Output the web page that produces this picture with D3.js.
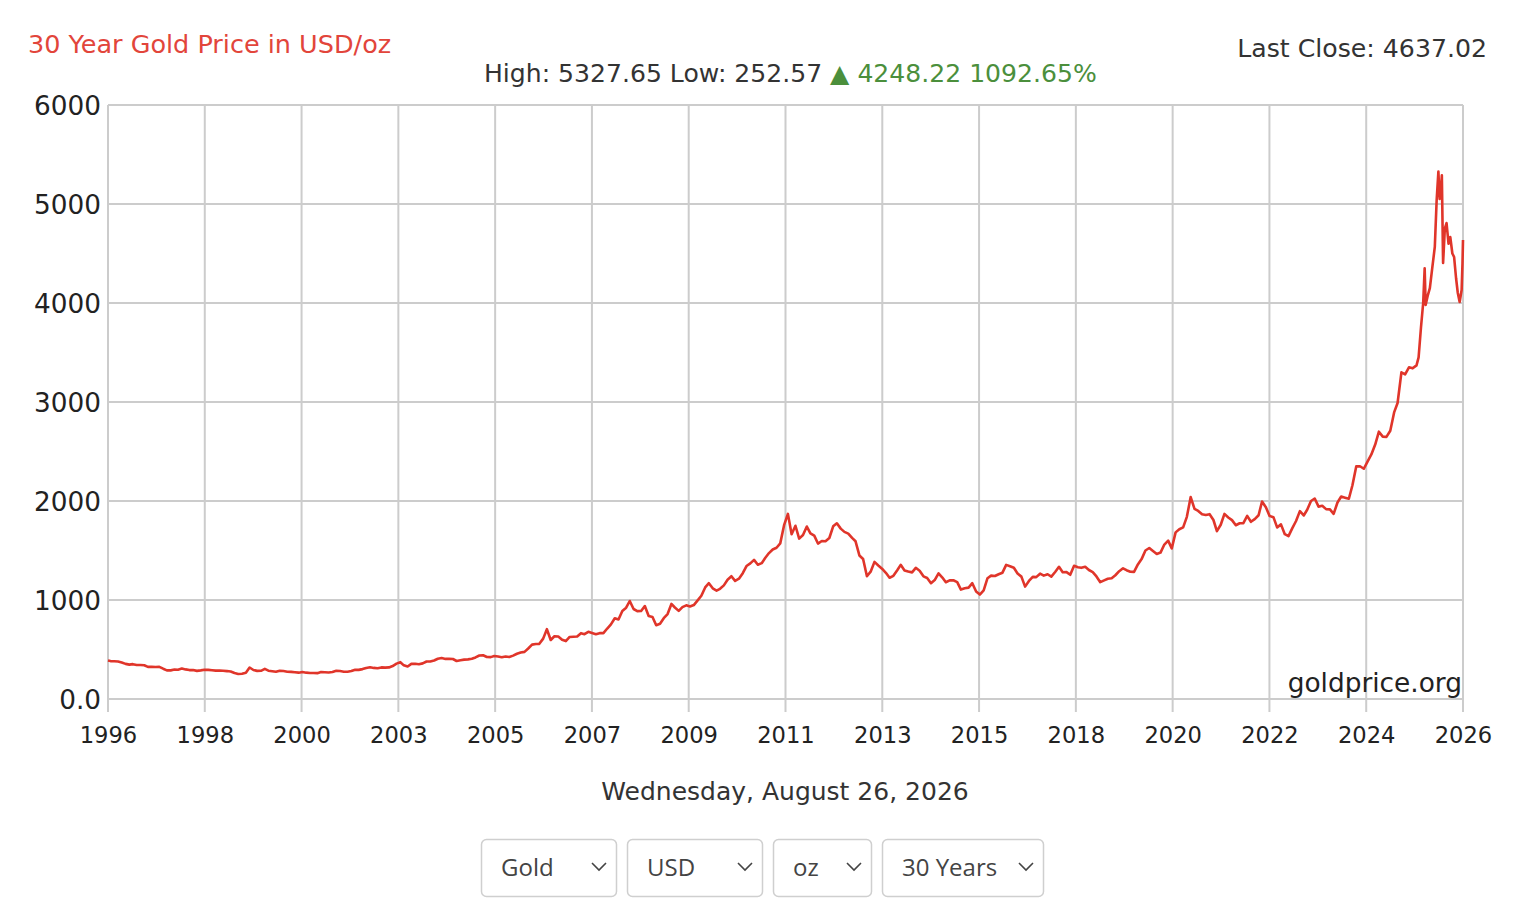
<!DOCTYPE html>
<html>
<head>
<meta charset="utf-8">
<script src="https://cdn.jsdelivr.net/npm/d3@7"></script>
<style>
  html, body { margin: 0; padding: 0; background: #fff; }
  svg { display: block; }
</style>
</head>
<body>
<svg id="chart" width="1532" height="924"></svg>
<script>
// ---------------- DATA ----------------
const titleText = "30 Year Gold Price in USD/oz";
const statsText = "High: 5327.65 Low: 252.57 ";
const changeText = "\u25B2 4248.22 1092.65%";
const lastCloseText = "Last Close: 4637.02";
const dateText = "Wednesday, August 26, 2026";
const sourceText = "goldprice.org";

const xTickLabels = ["1996","1998","2000","2003","2005","2007","2009","2011","2013","2015","2018","2020","2022","2024","2026"];
const yTickValues = [0, 1000, 2000, 3000, 4000, 5000, 6000];
const yTickLabels = ["0.0","1000","2000","3000","4000","5000","6000"];

const selectLabels = ["Gold", "USD", "oz", "30 Years"];

// monthly values (mid-month) 1996-09 .. 2025-08
const monthlyStart = "1996-09";
const monthlyPrices = [
  383, 381, 378, 369,
  355, 347, 352, 344, 344, 341, 324, 324, 323, 325, 306, 289,            // 1997
  289, 297, 296, 308, 299, 292, 293, 284, 289, 296, 294, 291,            // 1998
  287, 288, 286, 282, 277, 262, 253, 255, 265, 318, 293, 284,            // 1999
  285, 305, 286, 280, 275, 286, 282, 275, 274, 270, 266, 272,            // 2000
  266, 262, 263, 261, 272, 270, 268, 273, 286, 283, 276, 276,            // 2001
  282, 296, 294, 302, 314, 321, 314, 310, 319, 317, 319, 333,            // 2002
  357, 372, 340, 328, 355, 356, 351, 360, 379, 379, 389, 407,            // 2003
  414, 405, 406, 404, 384, 392, 398, 400, 406, 420, 439, 442,            // 2004
  424, 423, 434, 429, 422, 430, 424, 438, 457, 470, 476, 510,            // 2005
  549, 555, 557, 610, 705, 596, 634, 632, 599, 585, 627, 629,            // 2006
  631, 665, 655, 679, 667, 655, 665, 665, 712, 754, 815, 803,            // 2007
  889, 922, 990, 909, 888, 889, 939, 839, 829, 745, 760, 816,            // 2008
  858, 960, 924, 890, 928, 946, 934, 949, 996, 1043, 1127, 1170,         // 2009
  1118, 1095, 1113, 1148, 1205, 1240, 1193, 1215, 1271, 1343, 1370, 1405, // 2010
  1356, 1372, 1424, 1474, 1510, 1528, 1572, 1756, 1870, 1665, 1750, 1620, // 2011
  1656, 1742, 1673, 1650, 1570, 1596, 1594, 1626, 1744, 1775, 1721, 1688, // 2012
  1671, 1627, 1593, 1450, 1414, 1240, 1286, 1385, 1349, 1316, 1275, 1225, // 2013
  1244, 1300, 1355, 1299, 1287, 1279, 1325, 1296, 1239, 1222, 1170, 1201, // 2014
  1270, 1227, 1179, 1198, 1199, 1181, 1105, 1118, 1125, 1170, 1086, 1055, // 2015
  1097, 1220, 1246, 1242, 1260, 1276, 1355, 1341, 1326, 1267, 1236, 1135, // 2016
  1192, 1234, 1231, 1266, 1246, 1260, 1236, 1283, 1335, 1280, 1282, 1255, // 2017
  1345, 1331, 1325, 1335, 1303, 1282, 1238, 1180, 1198, 1215, 1220, 1250, // 2018
  1291, 1320, 1301, 1286, 1284, 1359, 1413, 1500, 1525, 1495, 1465, 1479, // 2019
  1560, 1600, 1520, 1683, 1715, 1733, 1840, 2040, 1921, 1900, 1866, 1858, // 2020
  1867, 1808, 1695, 1760, 1870, 1834, 1807, 1755, 1775, 1777, 1850, 1790, // 2021
  1817, 1856, 1995, 1937, 1849, 1837, 1733, 1764, 1665, 1645, 1726, 1798, // 2022
  1898, 1854, 1912, 2000, 2025, 1943, 1951, 1918, 1915, 1870, 1985, 2045, // 2023
  2034, 2023, 2159, 2350, 2351, 2326, 2398, 2470, 2570, 2700, 2650, 2648, // 2024
  2710, 2895, 2990, 3300, 3280, 3350, 3340, 3370                          // 2025 Jan-Aug
];

// final months, read point by point
const lateDates = [
  "2025-09-01","2025-09-20","2025-10-08","2025-10-20","2025-10-28","2025-11-15",
  "2025-12-01","2025-12-20","2026-01-10","2026-01-25","2026-02-08","2026-02-18",
  "2026-02-26","2026-03-08","2026-03-18","2026-04-01","2026-04-15","2026-05-01",
  "2026-05-15","2026-06-01","2026-06-15","2026-07-01","2026-07-15","2026-07-30",
  "2026-08-15","2026-08-22","2026-08-26"
];
const latePrices = [
  3450, 3750, 4000, 4350, 3980, 4080,
  4150, 4350, 4566, 5040, 5327.65, 5050,
  5111, 5290, 4404, 4750, 4808, 4600,
  4667, 4500, 4465, 4250, 4101, 4010,
  4131, 4404, 4637.02
];

const startDate = "1996-08-26";
const startPrice = 388.80;
const endDate = "2026-08-26";

// ---------------- BUILD SERIES ----------------
const parse = d3.timeParse("%Y-%m-%d");
const series = [{ date: parse(startDate), value: startPrice }];
const m0 = d3.timeParse("%Y-%m")(monthlyStart);
monthlyPrices.forEach((v, i) => {
  const d = d3.timeMonth.offset(m0, i);
  d.setDate(15);
  series.push({ date: d, value: v });
});
lateDates.forEach((s, i) => series.push({ date: parse(s), value: latePrices[i] }));

// ---------------- LAYOUT ----------------
const svg = d3.select("#chart");
const plot = { left: 108, right: 1463, top: 105, bottom: 699 };
const chartFont = "'DejaVu Sans', Verdana, sans-serif";

const x = d3.scaleTime()
  .domain([parse(startDate), parse(endDate)])
  .range([plot.left, plot.right]);
const y = d3.scaleLinear()
  .domain([0, 6000])
  .range([plot.bottom, plot.top]);

const t0 = +parse(startDate), t1 = +parse(endDate);
const xTickValues = xTickLabels.map((_, i) => new Date(t0 + (t1 - t0) * i / (xTickLabels.length - 1)));

const gridColor = "#cccccc";

// horizontal grid
svg.append("g")
  .selectAll("line")
  .data(yTickValues)
  .join("line")
  .attr("x1", plot.left).attr("x2", plot.right)
  .attr("y1", d => y(d)).attr("y2", d => y(d))
  .attr("stroke", gridColor).attr("stroke-width", 2);

// vertical grid (extends below baseline as tick marks)
svg.append("g")
  .selectAll("line")
  .data(xTickValues)
  .join("line")
  .attr("x1", d => x(d)).attr("x2", d => x(d))
  .attr("y1", plot.top).attr("y2", plot.bottom + 13)
  .attr("stroke", gridColor).attr("stroke-width", 2);

// x axis labels via d3 axis
const xAxis = d3.axisBottom(x)
  .tickValues(xTickValues)
  .tickSize(0)
  .tickPadding(0)
  .tickFormat((d, i) => xTickLabels[i]);
const gx = svg.append("g")
  .attr("transform", `translate(0,${plot.bottom})`)
  .call(xAxis);
gx.select(".domain").remove();
gx.selectAll("text")
  .attr("y", 44).attr("dy", null)
  .attr("font-family", chartFont).attr("font-size", 22.6)
  .attr("fill", "#222");

// y axis labels via d3 axis
const yAxis = d3.axisLeft(y)
  .tickValues(yTickValues)
  .tickSize(0)
  .tickPadding(0)
  .tickFormat((d, i) => yTickLabels[i]);
const gy = svg.append("g")
  .attr("transform", `translate(${plot.left - 7},0)`)
  .call(yAxis);
gy.select(".domain").remove();
gy.selectAll("text")
  .attr("x", 0).attr("dy", "0.36em")
  .attr("font-family", chartFont).attr("font-size", 26.3)
  .attr("fill", "#222");

// price line
const line = d3.line()
  .x(d => x(d.date))
  .y(d => y(d.value))
  .curve(d3.curveLinear);
svg.append("path")
  .datum(series)
  .attr("d", line)
  .attr("fill", "none")
  .attr("stroke", "#e0352a")
  .attr("stroke-width", 2.6)
  .attr("stroke-linejoin", "round");

// watermark
svg.append("text")
  .attr("x", plot.right - 1).attr("y", 692)
  .attr("text-anchor", "end")
  .attr("font-family", chartFont).attr("font-size", 26.4)
  .attr("fill", "#222")
  .text(sourceText);

// title
svg.append("text")
  .attr("x", 28).attr("y", 53)
  .attr("font-family", chartFont).attr("font-size", 25.5)
  .attr("fill", "#e2453b")
  .text(titleText);

// stats line
const stats = svg.append("text")
  .attr("x", 484).attr("y", 82)
  .attr("font-family", chartFont).attr("font-size", 25.1)
  .attr("fill", "#333");
stats.append("tspan").text(statsText);
stats.append("tspan").attr("fill", "#4b8f3c").text(changeText);

// last close
svg.append("text")
  .attr("x", 1487).attr("y", 57)
  .attr("text-anchor", "end")
  .attr("font-family", chartFont).attr("font-size", 25.2)
  .attr("fill", "#333")
  .text(lastCloseText);

// date
svg.append("text")
  .attr("x", 785).attr("y", 800)
  .attr("text-anchor", "middle")
  .attr("font-family", chartFont).attr("font-size", 25)
  .attr("fill", "#333")
  .text(dateText);

// selects
const selectBoxes = [
  { x: 481, w: 136 },
  { x: 627, w: 136 },
  { x: 773, w: 99 },
  { x: 882, w: 162 }
];
const sel = svg.append("g")
  .selectAll("g")
  .data(selectLabels)
  .join("g")
  .attr("transform", (d, i) => `translate(${selectBoxes[i].x},839)`);
sel.append("rect")
  .attr("x", 0.5).attr("y", 0.5)
  .attr("width", (d, i) => selectBoxes[i].w - 1).attr("height", 57)
  .attr("rx", 5).attr("ry", 5)
  .attr("fill", "#fff").attr("stroke", "#cfcfcf").attr("stroke-width", 1.5);
sel.append("text")
  .attr("x", 20).attr("y", 37)
  .attr("font-family", "'Open Sans', sans-serif").attr("font-size", 24)
  .attr("fill", "#444")
  .text(d => d);
sel.append("path")
  .attr("d", (d, i) => {
    const cx = selectBoxes[i].w - 18;
    return `M${cx - 7},24 L${cx},31 L${cx + 7},24`;
  })
  .attr("fill", "none").attr("stroke", "#444").attr("stroke-width", 1.6);
</script>
</body>
</html>
